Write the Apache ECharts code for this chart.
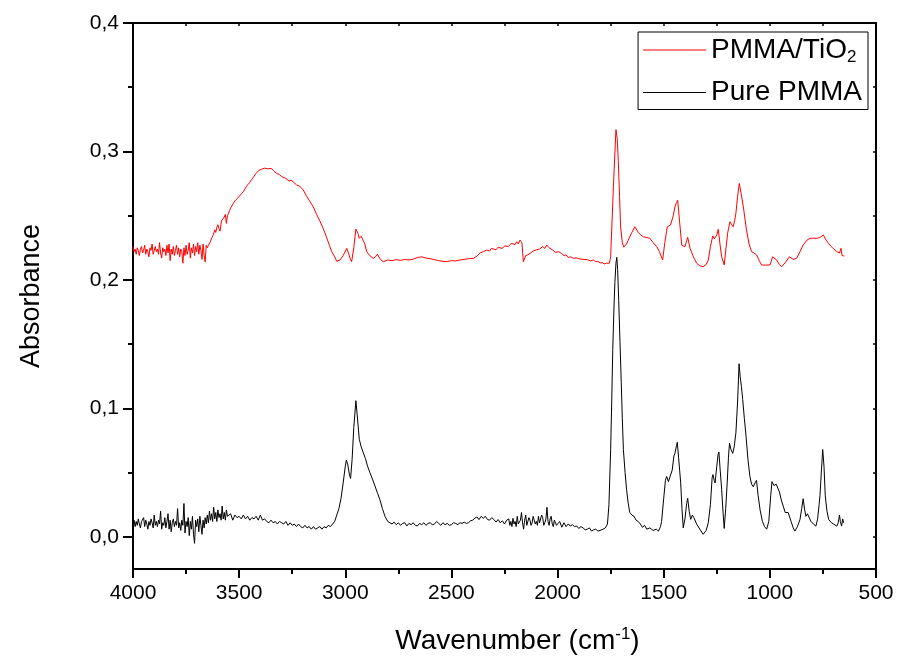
<!DOCTYPE html>
<html>
<head>
<meta charset="utf-8">
<script src="https://cdn.jsdelivr.net/npm/echarts@6/dist/echarts.min.js"></script>
<style>
html,body{margin:0;padding:0;background:#fff;}
#c{width:898px;height:663px;}
</style>
</head>
<body>
<div id="c"></div>
<script>
// Pure PMMA spectrum: [wavenumber, absorbance]
const purePMMA = [
[4000,0.010],[3995,0.013],[3990,0.008],[3985,0.012],[3980,0.009],[3975,0.014],[3970,0.010],[3965,0.007],[3960,0.012],[3955,0.011],
[3950,0.015],[3945,0.008],[3940,0.013],[3935,0.010],[3930,0.006],[3925,0.012],[3920,0.009],[3915,0.014],[3910,0.011],[3905,0.007],
[3900,0.017],[3895,0.009],[3890,0.012],[3885,0.008],[3880,0.013],[3875,0.010],[3870,0.020],[3865,0.006],[3860,0.011],[3855,0.009],
[3850,0.015],[3845,0.007],[3840,0.012],[3835,0.018],[3830,0.006],[3825,0.013],[3820,0.004],[3815,0.011],[3810,0.014],[3805,0.008],
[3800,0.012],[3795,0.009],[3790,0.022],[3785,0.007],[3780,0.011],[3775,0.005],[3770,0.013],[3765,0.009],[3760,0.026],[3755,0.003],
[3750,0.012],[3745,0.008],[3740,0.015],[3735,0.001],[3730,0.012],[3725,0.006],[3720,0.016],[3715,0.002],[3710,-0.005],[3705,0.013],
[3700,0.008],[3695,0.014],[3690,0.004],[3685,0.016],[3680,0.009],[3675,0.002],[3670,0.013],[3665,0.007],[3660,0.015],[3655,0.010],
[3650,0.017],[3645,0.011],[3640,0.020],[3635,0.013],[3630,0.018],[3625,0.012],[3620,0.023],[3615,0.014],[3610,0.019],[3605,0.012],
[3600,0.021],[3595,0.015],[3590,0.018],[3585,0.013],[3580,0.024],[3575,0.014],[3570,0.019],[3565,0.013],[3560,0.021],[3555,0.016],
[3550,0.017],[3540,0.018],[3530,0.013],[3520,0.017],[3510,0.015],
[3500,0.016],[3490,0.014],[3480,0.017],[3470,0.014],[3460,0.016],[3450,0.013],[3440,0.015],[3430,0.014],[3420,0.016],[3410,0.013],
[3400,0.017],[3390,0.013],[3380,0.014],[3370,0.012],[3360,0.011],[3350,0.013],[3340,0.011],[3330,0.012],[3320,0.010],[3310,0.012],
[3300,0.011],[3290,0.010],[3280,0.012],[3270,0.009],[3260,0.011],[3250,0.009],[3240,0.010],[3230,0.008],[3220,0.010],[3210,0.008],
[3200,0.007],[3190,0.009],[3180,0.007],[3170,0.008],[3160,0.006],[3150,0.008],[3140,0.006],[3130,0.007],[3120,0.008],[3110,0.006],
[3100,0.008],[3090,0.007],[3080,0.009],[3070,0.008],[3060,0.010],
[3050,0.012],[3040,0.017],[3030,0.022],[3020,0.030],[3010,0.042],[3000,0.055],[2995,0.0597],[2988,0.056],[2980,0.048],[2975,0.0455],
[2968,0.060],[2960,0.085],[2950,0.106],[2944,0.095],[2934,0.076],[2925,0.070],[2915,0.0654],[2905,0.061],[2895,0.055],[2884,0.050],
[2872,0.045],[2860,0.0395],[2848,0.034],[2837,0.029],[2825,0.022],[2813,0.016],[2800,0.012],[2790,0.011],
[2780,0.010],[2770,0.0115],[2760,0.0095],[2750,0.011],[2740,0.009],[2730,0.0105],[2720,0.011],[2710,0.0085],[2700,0.0105],[2690,0.0095],
[2680,0.011],[2670,0.009],[2660,0.0085],[2650,0.0105],[2640,0.0095],[2630,0.011],[2620,0.009],[2610,0.0105],[2600,0.011],[2590,0.0095],
[2580,0.010],[2570,0.012],[2560,0.0105],[2550,0.009],[2540,0.011],[2530,0.0095],[2520,0.0105],[2510,0.009],[2500,0.0095],[2490,0.011],
[2480,0.0105],[2470,0.0095],[2460,0.011],[2450,0.0105],[2440,0.0115],[2430,0.0105],[2420,0.011],[2410,0.0125],[2400,0.013],[2390,0.0145],
[2380,0.0155],[2370,0.0135],[2360,0.016],[2350,0.0145],[2340,0.016],[2330,0.0135],[2320,0.013],[2310,0.015],[2300,0.0135],[2290,0.0115],
[2280,0.0135],[2270,0.011],[2260,0.0125],[2250,0.010],[2240,0.013],[2230,0.014],[2225,0.009],[2220,0.012],[2215,0.008],[2210,0.0145],
[2205,0.010],[2200,0.012],[2195,0.008],[2190,0.016],[2185,0.010],[2180,0.009],[2175,0.013],[2170,0.019],[2165,0.011],[2160,0.006],
[2155,0.013],[2150,0.017],[2145,0.009],[2140,0.010],[2135,0.015],[2130,0.013],[2125,0.009],[2120,0.011],[2115,0.016],[2110,0.0145],
[2105,0.010],[2100,0.012],[2095,0.009],[2090,0.016],[2085,0.011],[2080,0.010],[2075,0.017],[2070,0.015],[2065,0.009],[2060,0.011],
[2055,0.014],[2050,0.023],[2045,0.012],[2040,0.009],[2035,0.014],[2030,0.016],[2025,0.010],[2020,0.008],[2015,0.013],[2010,0.014],
[2005,0.009],[2000,0.009],[1990,0.012],[1980,0.0075],[1970,0.011],[1960,0.008],[1950,0.010],[1940,0.0085],[1930,0.0095],[1920,0.008],
[1910,0.0085],[1900,0.0065],[1890,0.008],[1880,0.007],[1870,0.0055],[1860,0.006],[1850,0.007],[1840,0.0045],[1830,0.0055],[1820,0.006],
[1810,0.0045],[1800,0.005],[1786,0.006],[1775,0.007],[1765,0.010],[1758,0.025],[1750,0.068],
[1745,0.105],[1740,0.146],[1735,0.175],[1730,0.198],[1725,0.213],[1721,0.2176],[1717,0.208],[1712,0.184],[1706,0.152],[1700,0.120],
[1695,0.092],[1690,0.068],[1682,0.050],[1675,0.037],[1668,0.027],[1660,0.019],[1650,0.017],[1640,0.016],[1630,0.013],[1620,0.012],
[1610,0.010],[1600,0.0074],[1590,0.009],[1580,0.006],[1565,0.007],[1550,0.005],[1535,0.006],[1525,0.0045],[1515,0.008],[1510,0.012],
[1500,0.030],[1492,0.044],[1486,0.047],[1478,0.043],[1470,0.042],[1460,0.052],[1452,0.063],[1447,0.065],[1440,0.071],[1436,0.0736],
[1430,0.062],[1425,0.052],[1420,0.042],[1414,0.022],[1408,0.007],[1400,0.014],[1392,0.026],[1387,0.030],[1380,0.020],[1373,0.0136],
[1365,0.017],[1358,0.015],[1345,0.010],[1330,0.006],[1314,0.002],[1300,0.005],[1290,0.011],[1280,0.025],[1272,0.046],[1268,0.0485],
[1262,0.044],[1258,0.042],[1250,0.055],[1244,0.064],[1240,0.066],[1234,0.052],[1227,0.037],[1220,0.018],[1215,0.0066],[1208,0.022],
[1201,0.042],[1195,0.062],[1190,0.073],[1183,0.068],[1175,0.065],[1168,0.070],[1160,0.081],[1152,0.105],[1145,0.1348],[1140,0.125],
[1134,0.117],[1128,0.107],[1120,0.092],[1112,0.078],[1103,0.060],[1094,0.047],[1086,0.041],[1078,0.039],[1070,0.042],[1063,0.044],
[1055,0.032],[1046,0.021],[1035,0.012],[1025,0.008],[1015,0.006],[1005,0.012],[996,0.032],[990,0.043],[987,0.044],[981,0.040],
[976,0.039],[970,0.041],[965,0.042],[955,0.035],[945,0.028],[937,0.024],[928,0.019],[921,0.018],[914,0.019],[910,0.019],
[900,0.012],[890,0.007],[882,0.0045],[870,0.008],[858,0.0136],[850,0.022],[843,0.0297],[836,0.021],[830,0.016],[823,0.018],
[819,0.0175],[812,0.014],[806,0.012],[795,0.010],[783,0.0084],[775,0.014],[768,0.025],[764,0.032],[757,0.052],[751,0.068],
[745,0.055],[739,0.032],[731,0.020],[723,0.0136],[710,0.011],[700,0.010],[692,0.009],[685,0.0084],[678,0.011],[672,0.017],
[668,0.012],[662,0.0084],[657,0.014],[652,0.011]
];

// PMMA/TiO2 spectrum: [wavenumber, absorbance]
const pmmaTiO2 = [
[4000,0.226],[3995,0.222],[3990,0.224],[3985,0.220],[3980,0.225],[3975,0.223],[3970,0.219],[3965,0.224],[3960,0.226],[3955,0.221],
[3950,0.223],[3945,0.227],[3940,0.220],[3935,0.224],[3930,0.222],[3925,0.218],[3920,0.225],[3915,0.223],[3910,0.228],[3905,0.220],
[3900,0.219],[3895,0.226],[3890,0.222],[3885,0.224],[3880,0.220],[3875,0.229],[3870,0.221],[3865,0.217],[3860,0.225],[3855,0.222],
[3850,0.224],[3845,0.219],[3840,0.227],[3835,0.221],[3830,0.228],[3825,0.215],[3820,0.224],[3815,0.220],[3810,0.226],[3805,0.219],
[3800,0.223],[3795,0.227],[3790,0.220],[3785,0.225],[3780,0.218],[3775,0.224],[3770,0.222],[3765,0.213],[3760,0.225],[3755,0.219],
[3750,0.227],[3745,0.220],[3740,0.223],[3735,0.229],[3730,0.217],[3725,0.225],[3720,0.221],[3715,0.228],[3710,0.219],[3705,0.226],
[3700,0.222],[3695,0.229],[3690,0.220],[3685,0.227],[3680,0.223],[3675,0.216],[3670,0.228],[3665,0.219],[3660,0.214],[3655,0.227],
[3650,0.225],[3645,0.227],[3640,0.226],[3635,0.230],[3628,0.233],[3622,0.235],[3615,0.239],[3610,0.237],[3605,0.241],
[3600,0.243],[3595,0.240],[3590,0.238],[3583,0.246],[3575,0.245],[3570,0.249],[3565,0.251],[3560,0.244],[3555,0.250],[3550,0.252],[3545,0.254],[3540,0.256],[3533,0.257],[3527,0.2596],[3520,0.2615],[3515,0.262],[3508,0.2635],[3500,0.265],
[3490,0.267],[3480,0.2686],[3472,0.270],[3465,0.273],[3457,0.2745],[3450,0.276],[3442,0.278],[3433,0.280],[3420,0.283],[3412,0.2845],[3405,0.2855],[3394,0.2862],[3380,0.287],[3372,0.2858],[3365,0.2865],
[3350,0.2868],[3339,0.2854],[3325,0.283],[3318,0.2835],[3310,0.282],[3300,0.2805],[3292,0.280],[3280,0.279],[3272,0.2775],[3265,0.277],[3255,0.2775],[3245,0.2763],[3230,0.274],[3215,0.273],
[3198,0.270],[3185,0.266],[3170,0.262],[3151,0.257],[3135,0.251],[3120,0.246],[3104,0.240],[3090,0.234],[3075,0.227],[3064,0.222],
[3050,0.218],[3040,0.2145],[3033,0.2137],[3025,0.2155],[3010,0.219],[2993,0.2246],[2985,0.221],[2978,0.217],[2970,0.2142],[2960,0.225],
[2950,0.2396],[2940,0.236],[2934,0.2324],[2925,0.234],[2918,0.2336],[2908,0.228],[2899,0.222],[2885,0.219],[2868,0.2168],[2858,0.218],
[2849,0.220],[2835,0.216],[2821,0.2142],[2800,0.2155],[2780,0.215],[2760,0.2158],[2740,0.2152],[2720,0.216],[2700,0.2155],[2680,0.2162],
[2660,0.2175],[2640,0.218],[2620,0.217],[2600,0.2165],[2580,0.2158],[2560,0.215],[2540,0.2145],[2522,0.2142],[2500,0.215],[2480,0.2148],
[2460,0.2155],[2440,0.216],[2420,0.2165],[2397,0.2168],[2380,0.2185],[2365,0.221],[2350,0.222],[2342,0.2215],[2334,0.2233],[2320,0.2225],[2312,0.2245],[2305,0.2245],
[2290,0.2235],[2280,0.2255],[2271,0.2259],[2262,0.2245],[2255,0.226],[2248,0.2265],[2240,0.2275],[2232,0.226],[2225,0.2265],[2218,0.2285],[2210,0.229],[2200,0.2275],[2193,0.2297],[2185,0.228],[2177,0.231],[2168,0.229],
[2161,0.2142],[2150,0.219],[2140,0.2195],[2130,0.2207],[2122,0.2215],[2115,0.2225],[2108,0.222],[2100,0.2235],[2092,0.2225],[2085,0.224],[2078,0.2235],[2070,0.226],[2060,0.2245],[2051,0.2272],[2040,0.225],
[2032,0.2245],[2025,0.2235],[2017,0.2245],[2010,0.2215],[2002,0.2225],[1995,0.222],[1989,0.2207],[1980,0.2205],[1970,0.219],[1960,0.2195],[1950,0.2175],[1938,0.218],[1926,0.2168],[1912,0.2172],[1900,0.2165],[1880,0.216],[1860,0.2158],
[1845,0.2148],[1832,0.2155],[1820,0.2142],[1810,0.2145],[1800,0.2132],[1790,0.2135],[1780,0.2125],[1769,0.213],[1760,0.2125],[1756,0.213],[1752,0.216],[1750,0.218],[1737,0.2725],[1725,0.317],
[1719,0.310],[1714,0.293],[1708,0.265],[1703,0.2414],[1695,0.229],[1688,0.2255],[1683,0.2246],[1675,0.228],[1667,0.231],[1650,0.237],
[1636,0.2414],[1620,0.237],[1608,0.235],[1596,0.2336],[1580,0.233],[1565,0.2324],[1550,0.229],[1533,0.2259],[1520,0.222],[1505,0.2155],
[1495,0.229],[1483,0.2414],[1475,0.241],[1468,0.2427],[1455,0.250],[1447,0.257],[1440,0.260],[1434,0.262],[1425,0.245],[1415,0.227],
[1400,0.2259],[1387,0.2332],[1376,0.2246],[1360,0.218],[1345,0.213],[1330,0.211],[1314,0.2103],[1300,0.212],[1290,0.2155],[1280,0.226],
[1269,0.2342],[1262,0.232],[1258,0.231],[1250,0.235],[1243,0.2394],[1235,0.228],[1227,0.218],[1215,0.2117],[1207,0.224],[1199,0.2363],
[1188,0.2453],[1180,0.243],[1173,0.2414],[1166,0.246],[1160,0.2518],[1152,0.265],[1144,0.2751],[1135,0.267],[1125,0.257],[1110,0.2388],
[1098,0.228],[1086,0.222],[1075,0.221],[1062,0.2194],[1050,0.215],[1039,0.2117],[1020,0.2115],[999,0.2117],[987,0.218],[978,0.217],
[968,0.2155],[955,0.212],[944,0.2103],[925,0.214],[908,0.218],[890,0.216],[874,0.2168],[858,0.222],[843,0.2272],[825,0.231],
[811,0.2324],[795,0.2325],[779,0.2324],[765,0.233],[748,0.2349],[735,0.231],[724,0.2285],[705,0.225],[685,0.222],[672,0.221],
[665,0.2246],[660,0.219],[650,0.2186]
];

const yMajorTicks = [0, 0.1, 0.2, 0.3, 0.4];
const yMinorTicks = [0.05, 0.15, 0.25, 0.35];
const yRightTicks = [0, 0.05, 0.1, 0.15, 0.2, 0.25, 0.3, 0.35, 0.4];
const seriesNames = ['PMMA/TiO2', 'Pure PMMA'];

const FONT = "'Liberation Sans', Arial, sans-serif";
const chart = echarts.init(document.getElementById('c'), null, {renderer: 'canvas'});

const yBase = {type: 'value', min: -0.025, max: 0.4, splitLine: {show: false}, gridIndex: 0};

chart.setOption({
  animation: false,
  backgroundColor: '#fff',
  grid: {left: 133, right: 22, top: 23, bottom: 94},
  legend: {
    data: seriesNames,
    orient: 'vertical',
    right: 30, top: 32,
    borderColor: '#000', borderWidth: 1, borderRadius: 0,
    padding: [4, 6, 3, 5],
    icon: 'rect',
    itemWidth: 63, itemHeight: 1, itemGap: 13,
    textStyle: {
      fontFamily: FONT, fontSize: 28, color: '#000',
      rich: {
        n: {fontFamily: FONT, fontSize: 28, color: '#000'},
        s: {fontFamily: FONT, fontSize: 17, color: '#000', padding: [14, 0, 0, 0]}
      }
    },
    formatter: function (name) {
      return name === 'PMMA/TiO2' ? '{n|PMMA/TiO}{s|2}' : '{n|' + name + '}';
    }
  },
  xAxis: [
    {
      type: 'value', min: 500, max: 4000, interval: 500, inverse: true, position: 'bottom',
      name: '{a|Wavenumber (cm}{s|-1}{a|)}', nameLocation: 'middle', nameGap: 57,
      nameTextStyle: {
        padding: [0, 0, 0, 26],
        rich: {
          a: {fontFamily: FONT, fontSize: 28, color: '#000'},
          s: {fontFamily: FONT, fontSize: 17, color: '#000', padding: [0, 0, 14, 0]}
        }
      },
      axisLine: {onZero: false, lineStyle: {color: '#000', width: 2}},
      axisTick: {length: 9, lineStyle: {color: '#000', width: 2}},
      minorTick: {show: true, splitNumber: 2, length: 5, lineStyle: {color: '#000', width: 2}},
      axisLabel: {fontFamily: FONT, fontSize: 21, color: '#000', margin: 14, formatter: v => String(v)},
      splitLine: {show: false}
    },
    {
      type: 'value', min: 500, max: 4000, interval: 250, inverse: true, position: 'top',
      axisLine: {onZero: false, lineStyle: {color: '#000', width: 2}},
      axisTick: {inside: true, length: 3, lineStyle: {color: '#000', width: 1.5}},
      axisLabel: {show: false}, splitLine: {show: false}
    }
  ],
  yAxis: [
    Object.assign({}, yBase, {
      position: 'left',
      name: 'Absorbance', nameLocation: 'middle', nameGap: 88, nameRotate: 90,
      nameTextStyle: {fontFamily: FONT, fontSize: 27, color: '#000'},
      axisLine: {onZero: false, lineStyle: {color: '#000', width: 2}},
      axisTick: {length: 10, customValues: yMajorTicks, lineStyle: {color: '#000', width: 2}},
      axisLabel: {customValues: yMajorTicks, fontFamily: FONT, fontSize: 21, color: '#000', margin: 14,
        formatter: v => v.toFixed(1).replace('.', ',')}
    }),
    Object.assign({}, yBase, {
      position: 'left',
      axisLine: {show: false},
      axisTick: {length: 5, customValues: yMinorTicks, lineStyle: {color: '#000', width: 2}},
      axisLabel: {show: false}
    }),
    Object.assign({}, yBase, {
      position: 'right',
      axisLine: {onZero: false, lineStyle: {color: '#000', width: 2}},
      axisTick: {inside: true, length: 3, customValues: yRightTicks, lineStyle: {color: '#000', width: 1.5}},
      axisLabel: {show: false}
    })
  ],
  series: [
    {
      name: 'PMMA/TiO2', type: 'line', data: pmmaTiO2, symbol: 'none',
      lineStyle: {color: '#ff0000', width: 1}, itemStyle: {color: '#ff0000'}, z: 3
    },
    {
      name: 'Pure PMMA', type: 'line', data: purePMMA, symbol: 'none',
      lineStyle: {color: '#000000', width: 1}, itemStyle: {color: '#000000'}, z: 3
    }
  ]
});
</script>
</body>
</html>
